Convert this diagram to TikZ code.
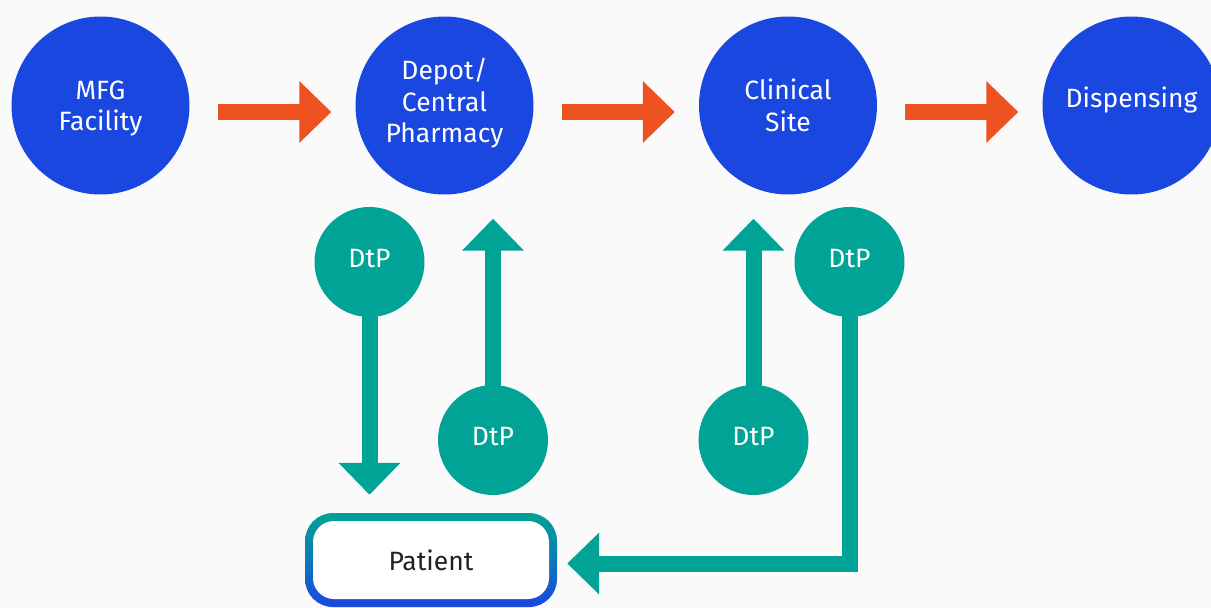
\documentclass[tikz,border=0pt]{standalone}
\usepackage{fontspec}
\setmainfont{Fira Sans}
\usetikzlibrary{arrows.meta,calc}
\definecolor{cblue}{HTML}{1A47E0}
\definecolor{corange}{HTML}{EE5220}
\definecolor{cteal}{HTML}{00A396}
\definecolor{cbg}{HTML}{FAFAFB}
\definecolor{ctext}{HTML}{222222}
\begin{document}
\begin{tikzpicture}[x=1pt,y=-1pt,
  site/.style={circle, fill=cblue, minimum size=178pt, inner sep=0pt},
  dtp/.style={circle, fill=cteal, minimum size=110pt, inner sep=0pt},
  wtext/.style={text=white, align=center, inner sep=0pt, font=\fontsize{26.5}{31.5}\selectfont},
  flow/.style={line width=16pt, draw=corange, -{Triangle[width=60pt,length=32pt]}, shorten <=28pt, shorten >=24pt},
  tflow/.style={line width=16pt, draw=cteal, -{Triangle[width=60pt,length=32pt]}},
  patbgstyle/.style={rectangle, rounded corners=28pt, minimum width=252pt, minimum height=94pt, inner sep=0pt, top color=cteal, bottom color=cblue, middle color=cteal!55!cblue},
  patinstyle/.style={rectangle, rounded corners=21pt, minimum width=236pt, minimum height=78pt, inner sep=0pt, fill=white, text=ctext, font=\fontsize{26.5}{31.5}\selectfont},
]
\fill[cbg] (0,0) rectangle (1211,608);
\useasboundingbox (0,0) rectangle (1211,608);

\node[site, label={[wtext, yshift=-3pt]center:MFG\\Facility}] (mfg) at (100.5,105.5) {};
\node[site, label={[wtext, yshift=2pt]center:Depot/\\Central\\Pharmacy}] (depot) at (444.5,105.5) {};
\node[site, label={[wtext, yshift=0pt]center:Clinical\\Site}] (clin) at (788,105.5) {};
\node[site, label={[wtext, yshift=6pt]center:Dispensing}] (disp) at (1131.5,105.5) {};

\node[dtp, label={[wtext, yshift=3pt]center:DtP}] (d1) at (369.5,262) {};
\node[dtp, label={[wtext, yshift=3pt]center:DtP}] (d2) at (493,440) {};
\node[dtp, label={[wtext, yshift=3pt]center:DtP}] (d3) at (753.5,440) {};
\node[dtp, label={[wtext, yshift=3pt]center:DtP}] (d4) at (849.5,262) {};

\node[patbgstyle] (patbg) at (431,560) {};
\node[patinstyle] (patient) at (patbg.center) {Patient};

\draw[flow] ([yshift=-6.5pt]mfg.east) -- ([yshift=-6.5pt]depot.west);
\draw[flow] ([yshift=-6.5pt]depot.east) -- ([yshift=-6.5pt]clin.west);
\draw[flow] ([yshift=-6.5pt]clin.east) -- ([yshift=-6.5pt]disp.west);

\draw[tflow, shorten >=18pt] ([yshift=2pt]d1.south) -- (d1.south |- patbg.north);
\draw[tflow, shorten >=24pt] ([yshift=-2pt]d2.north) -- (d2.north |- depot.south);
\draw[tflow, shorten >=24pt] ([yshift=-2pt]d3.north) -- (d3.north |- clin.south);
\draw[tflow, shorten >=10pt] ([yshift=2pt]d4.south) |- ([yshift=-3.5pt]patbg.east);
\end{tikzpicture}
\end{document}
